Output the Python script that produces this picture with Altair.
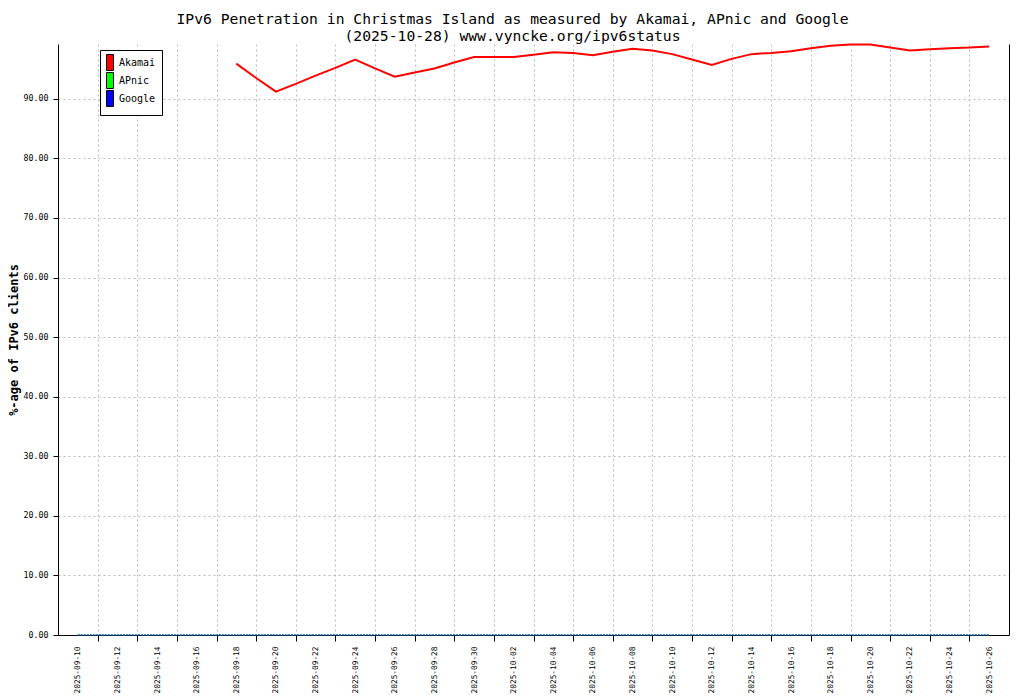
import altair as alt
import pandas as pd

# ---------------------------------------------------------------
# Data
# ---------------------------------------------------------------

SERIES = ["Akamai", "APnic", "Google"]
COLORS = ["#ff0000", "#00ff00", "#0000ff"]

# Akamai: daily values from 2025-09-18 to 2025-10-26
akamai_dates = pd.date_range("2025-09-18", "2025-10-26", freq="D")
akamai = [95.9, 93.5, 91.2, 92.5, 93.9, 95.2, 96.6, 95.1, 93.7, 94.4,
          95.1, 96.1, 97.0, 97.0, 97.0, 97.4, 97.8, 97.7, 97.3, 97.9,
          98.4, 98.1, 97.5, 96.6, 95.7, 96.7, 97.5, 97.7, 98.0, 98.5,
          98.9, 99.1, 99.1, 98.6, 98.1, 98.3, 98.5, 98.6, 98.8]

# APnic and Google: daily values from 2025-09-10 to 2025-10-26
other_dates = pd.date_range("2025-09-10", "2025-10-26", freq="D")
apnic = [0.0, 0.0, 0.0, 0.0, 0.0, 0.0, 0.0, 0.0, 0.0, 0.0,
         0.0, 0.0, 0.0, 0.0, 0.0, 0.0, 0.0, 0.0, 0.0, 0.0,
         0.0, 0.0, 0.0, 0.0, 0.0, 0.0, 0.0, 0.0, 0.0, 0.0,
         0.0, 0.0, 0.0, 0.0, 0.0, 0.0, 0.0, 0.0, 0.0, 0.0,
         0.0, 0.0, 0.0, 0.0, 0.0, 0.0, 0.0]
google = [0.0, 0.0, 0.0, 0.0, 0.0, 0.0, 0.0, 0.0, 0.0, 0.0,
          0.0, 0.0, 0.0, 0.0, 0.0, 0.0, 0.0, 0.0, 0.0, 0.0,
          0.0, 0.0, 0.0, 0.0, 0.0, 0.0, 0.0, 0.0, 0.0, 0.0,
          0.0, 0.0, 0.0, 0.0, 0.0, 0.0, 0.0, 0.0, 0.0, 0.0,
          0.0, 0.0, 0.0, 0.0, 0.0, 0.0, 0.0]

y_ticks = [0, 10, 20, 30, 40, 50, 60, 70, 80, 90]

# grid/ticks sit on odd days, labels on even days
grid_days = pd.date_range("2025-09-11", "2025-10-25", freq="2D")
label_days = pd.date_range("2025-09-10", "2025-10-26", freq="2D")

TITLE = [
    "IPv6 Penetration in Christmas Island as measured by Akamai, APnic and Google",
    "(2025-10-28) www.vyncke.org/ipv6status",
]

FONT = "DejaVu Sans Mono"


def _dt(d):
    return alt.DateTime(year=d.year, month=d.month, date=d.day, utc=True)


frames = []
for name, dates, vals in [("Akamai", akamai_dates, akamai),
                          ("APnic", other_dates, apnic),
                          ("Google", other_dates, google)]:
    frames.append(pd.DataFrame({
        "date": dates.strftime("%Y-%m-%d"),
        "value": vals,
        "series": name,
    }))
df = pd.concat(frames, ignore_index=True)

x_scale = alt.Scale(type="utc",
                    domain=[_dt(pd.Timestamp("2025-09-09")), _dt(pd.Timestamp("2025-10-27"))])
y_scale = alt.Scale(domain=[0, 99.2], nice=False, zero=True)
color_scale = alt.Scale(domain=SERIES, range=COLORS)

# swatch shape: tall narrow rectangle
SWATCH = "M-1,-1.33H0.17V1.33H-1Z"

x_grid_axis = alt.Axis(orient="bottom", values=[_dt(d) for d in grid_days],
                       labels=False, title=None, grid=True,
                       gridDash=[2, 3], gridColor="#bbbbbb",
                       tickSize=6, tickColor="black", domainColor="black")

y_left_axis = alt.Axis(orient="left", values=y_ticks, format=".2f",
                       title="%-age of IPv6 clients", grid=True,
                       gridDash=[2, 3], gridColor="#bbbbbb",
                       tickSize=5, tickColor="black", domainColor="black",
                       labelFont=FONT, labelFontSize=8.3, labelColor="black",
                       labelPadding=5,
                       titleFont=FONT, titleFontSize=12, titleFontWeight="bold",
                       titleColor="black", titleX=-45, titleY=295.5,
                       titleAngle=270, titleAlign="center",
                       titleBaseline="middle")

akamai_line = (
    alt.Chart(df)
    .transform_filter(alt.datum.series == "Akamai")
    .mark_line(strokeWidth=2)
    .encode(
        x=alt.X("date:T", scale=x_scale, axis=x_grid_axis),
        y=alt.Y("value:Q", scale=y_scale, axis=y_left_axis),
        color=alt.Color("series:N", scale=color_scale, legend=None),
    )
)

# APnic / Google sit on the zero line, drawn thin and dashed over the axis
zero_lines = (
    alt.Chart(df)
    .transform_filter(alt.datum.series != "Akamai")
    .mark_line(strokeWidth=1, strokeDash=[2, 1])
    .encode(
        x=alt.X("date:T", scale=x_scale, axis=None),
        y=alt.Y("value:Q", scale=y_scale, axis=None),
        color=alt.Color("series:N", scale=color_scale, legend=None),
        detail="series:N",
    )
)

points = (
    alt.Chart(df)
    .mark_point(shape=SWATCH, filled=True, opacity=0, size=144)
    .encode(
        x=alt.X("date:T", scale=x_scale,
                axis=alt.Axis(orient="bottom", values=[_dt(d) for d in label_days],
                              format="%Y-%m-%d", labelAngle=270, labelAlign="right",
                              labelBaseline="middle", ticks=False, grid=False,
                              domain=False, title=None, labelPadding=11,
                              labelFont=FONT, labelFontSize=7.8, labelColor="black")),
        y=alt.Y("value:Q", scale=y_scale,
                axis=alt.Axis(orient="right", labels=False, ticks=False, grid=False,
                              domainColor="black", title=None)),
        color=alt.Color("series:N", scale=color_scale,
                        legend=alt.Legend(title=None, orient="none", legendX=42, legendY=6,
                                          strokeColor="black", fillColor="white",
                                          padding=6, symbolSize=144,
                                          symbolType=SWATCH, symbolOpacity=1,
                                          symbolStrokeColor="black", symbolStrokeWidth=1,
                                          labelFont=FONT, labelFontSize=10,
                                          labelColor="black", labelOffset=0,
                                          rowPadding=-3)),
    )
)

chart = (
    alt.layer(akamai_line, zero_lines, points)
    .resolve_axis(x="independent", y="independent")
    .resolve_legend(color="independent")
    .properties(
        width=951,
        height=591,
        autosize=alt.AutoSizeParams(type="none"),
        padding={"left": 50, "top": 36, "right": 7, "bottom": 58},
        background="white",
        title=alt.Title(TITLE, font=FONT, fontSize=14.7, fontWeight="normal",
                        color="black", lineHeight=17, anchor="middle", dx=-21,
                        offset=4, dy=11),
    )
    .configure_view(stroke=None)
)

chart.save("out.html", embed_options={"renderer": "svg", "actions": False})
